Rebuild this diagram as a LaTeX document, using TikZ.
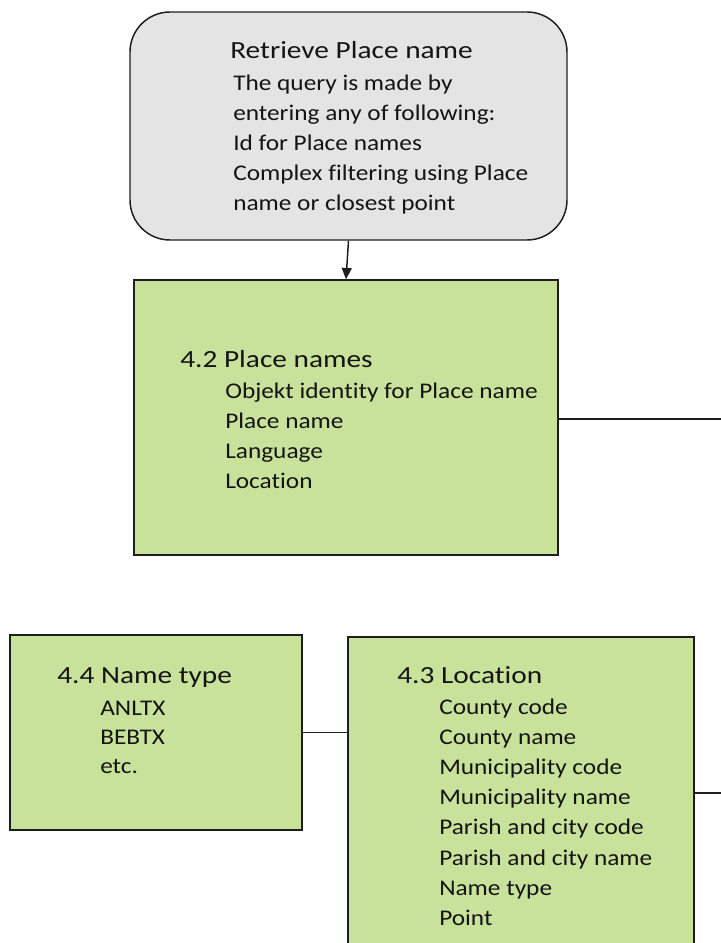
\documentclass[tikz,border=0pt]{standalone}
\usepackage{fontspec}
\setmainfont{Carlito}
\newfontfamily\titlefont{Carlito}[FakeStretch=1.19,Ligatures=NoCommon]
\newfontfamily\itemfont{Carlito}[FakeStretch=1.13,Ligatures=NoCommon]
\usetikzlibrary{arrows.meta}
\definecolor{boxgreen}{RGB}{201,226,155}
\definecolor{boxgray}{RGB}{228,228,228}
\definecolor{edge}{RGB}{30,30,30}
\definecolor{ink}{RGB}{20,20,20}
\tikzset{
  px/.style={x=0.75pt,y=-0.75pt},
  greenbox/.style={draw=edge,line width=1.1pt,fill=boxgreen,rectangle,inner sep=0pt},
  graybox/.style={draw=edge,line width=1.1pt,fill=boxgray,rectangle,rounded corners=30pt,inner sep=0pt},
  ttl/.style={anchor=base west,inner sep=0pt,font=\titlefont\fontsize{18.5pt}{21pt}\selectfont,text=ink},
  itm/.style={anchor=base west,inner sep=0pt,font=\itemfont\fontsize{16.8pt}{19pt}\selectfont,text=ink},
  conn/.style={draw=edge,line width=1.1pt},
}
\begin{document}
\begin{tikzpicture}[px]
\useasboundingbox (0,0) rectangle (721,943);
\clip (0,0) rectangle (721,943);
% boxes
\node[graybox,minimum width={437*0.75pt},minimum height={228*0.75pt}] (top) at (348.5,126) {};
\node[greenbox,minimum width={424*0.75pt},minimum height={275*0.75pt}] (place) at (346,417.5) {};
\node[greenbox,minimum width={292*0.75pt},minimum height={195*0.75pt}] (ntype) at (156,732.5) {};
\node[greenbox,minimum width={346*0.75pt},minimum height={330*0.75pt}] (loc) at (521,802) {};
% connectors
\coordinate (r1) at (721,419);
\coordinate (r2) at (721,793);
\draw[conn,-{Triangle[length=8.5pt,width=7.5pt]}] (top.south) -- (place.north);
\draw[conn] (r1 -| place.east) -- (r1);
\draw[conn] (ntype.east) -- (ntype.east -| loc.west);
\draw[conn] (r2 -| loc.east) -- (r2);
% top box text
\node[ttl] (t0) at (230,58) {Retrieve Place name};
\node[itm] (t1) at (233,90) {The query is made by};
\node[itm] (t2) at (233,120) {entering any of following:};
\node[itm] (t3) at (233,150) {Id for Place names};
\node[itm] (t4) at (233,180) {Complex filtering using Place};
\node[itm] (t5) at (233,210) {name or closest point};
% place names text
\node[ttl] (p0) at (180,367) {4.2 Place names};
\node[itm] (p1) at (225,398) {Objekt identity for Place name};
\node[itm] (p2) at (225,428) {Place name};
\node[itm] (p3) at (225,458) {Language};
\node[itm] (p4) at (225,488) {Location};
% name type text
\node[ttl] (n0) at (57,683) {4.4 Name type};
\node[itm] (n1) at (100,715) {ANLTX};
\node[itm] (n2) at (100,744) {BEBTX};
\node[itm] (n3) at (100,773) {etc.};
% location text
\node[ttl] (l0) at (397,683) {4.3 Location};
\node[itm] (l1) at (439,714) {County code};
\node[itm] (l2) at (439,744) {County name};
\node[itm] (l3) at (439,774) {Municipality code};
\node[itm] (l4) at (439,804) {Municipality name};
\node[itm] (l5) at (439,834) {Parish and city code};
\node[itm] (l6) at (439,865) {Parish and city name};
\node[itm] (l7) at (439,895) {Name type};
\node[itm] (l8) at (439,925) {Point};
\end{tikzpicture}
\end{document}
